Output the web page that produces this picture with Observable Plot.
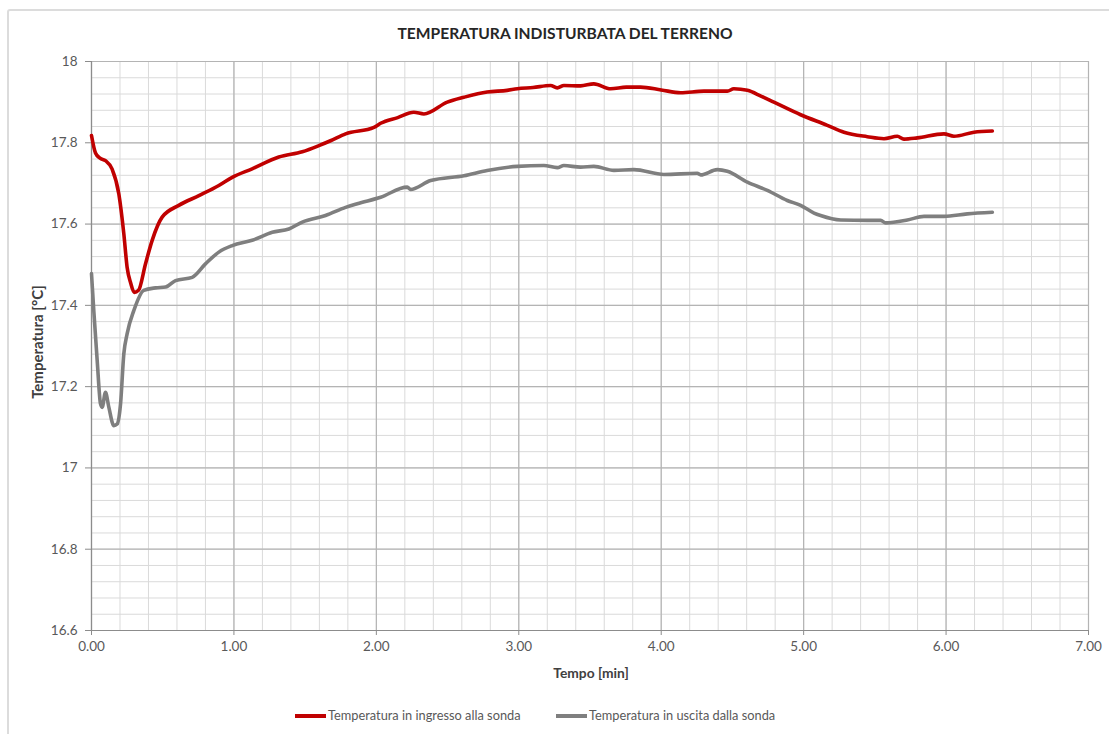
<!DOCTYPE html>
<html><head><meta charset="utf-8">
<script src="https://cdn.jsdelivr.net/npm/d3@7"></script>
<script src="https://cdn.jsdelivr.net/npm/@observablehq/plot@0.6"></script>
<style>
html,body{margin:0;padding:0;background:#fff;overflow:hidden;width:1109px;height:734px;}
#wrap{position:relative;width:1109px;height:734px;font-family:Lato,"Open Sans",sans-serif;overflow:hidden;}
#border{position:absolute;left:7px;top:9px;width:1200px;height:800px;border:2px solid #dcdcdc;border-radius:3px;}
#chart{position:absolute;left:0;top:0;}
.title{position:absolute;top:23px;left:0;width:1130px;text-align:center;font-weight:bold;font-size:15.6px;color:#262626;line-height:20px;}
.xlabel{position:absolute;top:664px;left:0;width:1182px;text-align:center;font-weight:bold;font-size:13.8px;color:#404040;line-height:18px;}
.ylabel{position:absolute;left:37px;top:342px;transform:translate(-50%,-50%) rotate(-90deg);white-space:nowrap;font-weight:bold;font-size:15px;color:#404040;}
.legend{position:absolute;top:706px;font-size:12.8px;color:#595959;white-space:nowrap;line-height:18px;}
.sw{display:inline-block;width:31px;height:3.5px;vertical-align:middle;margin-right:2px;position:relative;top:-1px;}
</style>
</head><body>
<div id="wrap">
<div id="border"></div>
<div id="chart"></div>
<div class="title" id="title"></div>
<div class="xlabel" id="xlabel"></div>
<div class="ylabel" id="ylabel"></div>
<div class="legend" id="leg1" style="left:295px"></div>
<div class="legend" id="leg2" style="left:556px"></div>
</div>
<script>
const titleText = "TEMPERATURA INDISTURBATA DEL TERRENO";
const xLabel = "Tempo [min]";
const yLabel = "Temperatura [°C]";
const seriesNames = ["Temperatura in ingresso alla sonda", "Temperatura in uscita dalla sonda"];
const seriesColors = ["#c00000", "#7f7f7f"];

const xTicks = [0, 1, 2, 3, 4, 5, 6, 7];
const xTickLabels = ["0.00", "1.00", "2.00", "3.00", "4.00", "5.00", "6.00", "7.00"];
const yTicks = [16.6, 16.8, 17.0, 17.2, 17.4, 17.6, 17.8, 18.0];
const yTickLabels = ["16.6", "16.8", "17", "17.2", "17.4", "17.6", "17.8", "18"];

// Ingresso (red)
const inTime = [0.000,0.028,0.060,0.098,0.145,0.192,0.227,0.250,0.275,0.300,0.330,0.379,0.426,0.496,0.613,0.754,0.894,0.988,1.128,1.315,1.480,1.596,1.678,1.784,1.983,2.030,2.150,2.263,2.334,2.498,2.615,2.778,2.919,2.990,3.100,3.223,3.270,3.317,3.434,3.527,3.645,3.755,3.855,4.000,4.136,4.300,4.464,4.510,4.605,4.700,4.791,4.979,5.166,5.283,5.447,5.564,5.658,5.704,5.798,5.985,6.055,6.196,6.325];
const inTemp = [17.818,17.775,17.762,17.756,17.735,17.674,17.576,17.494,17.455,17.432,17.437,17.502,17.560,17.617,17.646,17.670,17.695,17.715,17.736,17.765,17.778,17.793,17.805,17.822,17.838,17.848,17.862,17.875,17.871,17.900,17.912,17.925,17.929,17.933,17.936,17.941,17.935,17.941,17.940,17.945,17.933,17.937,17.937,17.930,17.923,17.927,17.927,17.933,17.929,17.915,17.900,17.869,17.843,17.826,17.815,17.810,17.816,17.809,17.812,17.822,17.816,17.826,17.829];

// Uscita (gray)
const outTime = [0.000,0.016,0.040,0.063,0.075,0.098,0.122,0.157,0.180,0.204,0.227,0.250,0.297,0.367,0.450,0.520,0.590,0.707,0.800,0.894,0.988,1.128,1.269,1.386,1.480,1.643,1.784,1.866,2.030,2.217,2.240,2.381,2.615,2.778,2.990,3.176,3.270,3.317,3.434,3.527,3.668,3.808,4.019,4.253,4.277,4.394,4.464,4.605,4.745,4.885,4.979,5.073,5.119,5.260,5.447,5.541,5.576,5.728,5.845,5.985,6.149,6.325];
const outTemp = [17.478,17.387,17.264,17.158,17.149,17.186,17.149,17.104,17.108,17.158,17.281,17.330,17.387,17.437,17.443,17.445,17.461,17.469,17.502,17.531,17.547,17.560,17.580,17.588,17.605,17.621,17.641,17.650,17.666,17.691,17.685,17.707,17.719,17.732,17.742,17.744,17.739,17.744,17.740,17.742,17.732,17.734,17.722,17.725,17.721,17.734,17.730,17.703,17.683,17.658,17.646,17.627,17.621,17.610,17.609,17.609,17.603,17.610,17.619,17.619,17.625,17.629];

const inData = inTime.map((t, i) => ({t, v: inTemp[i]}));
const outData = outTime.map((t, i) => ({t, v: outTemp[i]}));
const minorX = d3.range(0, 7.0001, 0.2);
const minorY = d3.range(16.6, 18.0001, 0.04);

const font = 'Lato, "Open Sans", sans-serif';
const labelFor = (ticks, labels) => d => labels[d3.minIndex(ticks, v => Math.abs(v - d))];

const chart = Plot.plot({
  width: 1109, height: 734,
  marginLeft: 91, marginRight: 21, marginTop: 61, marginBottom: 104,
  x: {domain: [0, 7]},
  y: {domain: [16.6, 18]},
  style: {fontFamily: font, fontSize: "13.5px", color: "#595959", background: "transparent", overflow: "visible"},
  marks: [
    Plot.ruleX(minorX, {stroke: "#dadada", strokeWidth: 1}),
    Plot.ruleY(minorY, {stroke: "#dadada", strokeWidth: 1}),
    Plot.ruleX(xTicks, {stroke: "#b4b4b4", strokeWidth: 1.2}),
    Plot.ruleY(yTicks, {stroke: "#b4b4b4", strokeWidth: 1.2}),
    Plot.axisX({ticks: xTicks, tickFormat: labelFor(xTicks, xTickLabels), tickSize: 5, tickPadding: 6, label: null, stroke: "#8c8c8c", fill: "#595959"}),
    Plot.axisY({ticks: yTicks, tickFormat: labelFor(yTicks, yTickLabels), tickSize: 6, tickPadding: 8, label: null, stroke: "#8c8c8c", fill: "#595959"}),
    Plot.ruleX([0], {stroke: "#8c8c8c", strokeWidth: 1.2}),
    Plot.ruleY([16.6], {stroke: "#8c8c8c", strokeWidth: 1.2}),
    Plot.line(inData, {x: "t", y: "v", stroke: seriesColors[0], strokeWidth: 3.6, curve: "monotone-x"}),
    Plot.line(outData, {x: "t", y: "v", stroke: seriesColors[1], strokeWidth: 3.6, curve: "monotone-x"})
  ]
});
document.getElementById("chart").appendChild(chart);

document.getElementById("title").textContent = titleText;
document.getElementById("xlabel").textContent = xLabel;
document.getElementById("ylabel").textContent = yLabel;
[["leg1", 0], ["leg2", 1]].forEach(([id, i]) => {
  const el = document.getElementById(id);
  const sw = document.createElement("span");
  sw.className = "sw";
  sw.style.background = seriesColors[i];
  el.appendChild(sw);
  el.appendChild(document.createTextNode(seriesNames[i]));
});
</script>
</body></html>
